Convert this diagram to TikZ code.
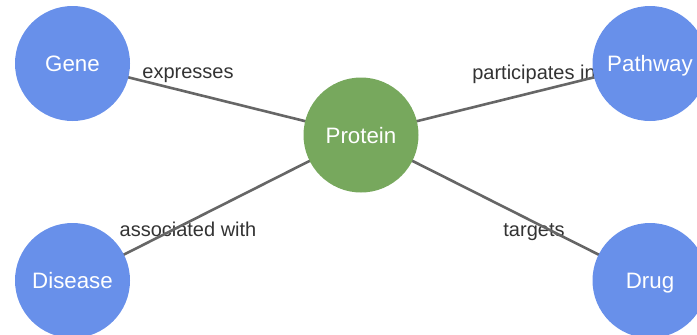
\documentclass[tikz,border=0pt]{standalone}
\usepackage{fontspec}
\setmainfont{Liberation Sans}
\usetikzlibrary{backgrounds}
\definecolor{entityblue}{HTML}{6890EA}
\definecolor{hubgreen}{HTML}{77A85D}
\definecolor{linkgray}{HTML}{666666}
\definecolor{labelgray}{HTML}{333333}
\tikzset{
  entity/.style={circle, fill=entityblue, draw=none, minimum size=115pt, inner sep=0pt,
    text=white, text height=16pt, text depth=0pt,
    font=\fontsize{22.3}{26}\selectfont},
  hub/.style={entity, fill=hubgreen},
  link/.style={draw=linkgray, line width=2.6pt},
  linklabel/.style={anchor=base, inner sep=0pt, text=labelgray,
    font=\fontsize{20}{24}\selectfont}
}
\begin{document}
\begin{tikzpicture}[x=1pt, y=-1pt]
  \useasboundingbox (0,0) rectangle (697,335);
  % entities
  \node[hub]    (protein) at (361,135)   {Protein};
  \node[entity] (gene)    at (72.5,63.5) {Gene};
  \node[entity] (pathway) at (650,63.5)  {Pathway};
  \node[entity] (disease) at (72.5,280.5){Disease};
  \node[entity] (drug)    at (650,280.5) {Drug};
  \begin{pgfonlayer}{background}
    % relation labels
    \node[linklabel] (lexp) at (188,78)    {expresses};
    \node[linklabel] (lpar) at (534,79)    {participates in};
    \node[linklabel] (lass) at (188,236.5) {associated with};
    \node[linklabel] (ltar) at (534,236.5) {targets};
    % relations
    \draw[link] (gene.center)    -- (protein.center);
    \draw[link] (pathway.center) -- (protein.center);
    \draw[link] (disease.center) -- (protein.center);
    \draw[link] (drug.center)    -- (protein.center);
  \end{pgfonlayer}
\end{tikzpicture}
\end{document}
